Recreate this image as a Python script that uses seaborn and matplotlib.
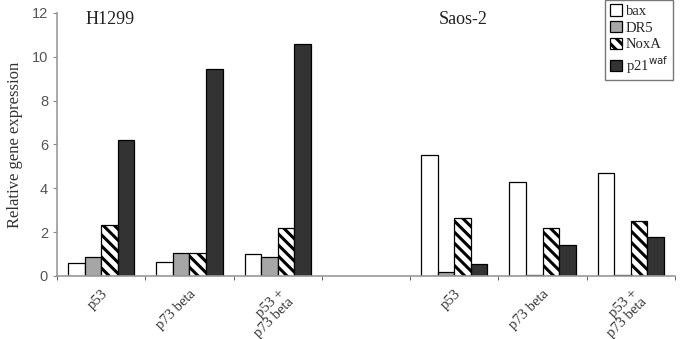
import numpy as np
import pandas as pd
import matplotlib.pyplot as plt
import seaborn as sns

# values
groups = ["H1299 p53", "H1299 p73", "H1299 both", "gap", "Saos p53", "Saos p73", "Saos both"]
tick_labels = ["p53", "p73 beta", "p53 +\np73 beta", "", "p53", "p73 beta", "p53 +\np73 beta"]
genes = ["bax", "DR5", "NoxA", "p21"]
gene_labels = ["bax", "DR5", "NoxA", r"p21$^{\mathrm{waf}}$"]

bax = [0.6, 0.65, 1.0, 5.5, 4.3, 4.7]
dr5 = [0.87, 1.05, 0.87, 0.2, 0.05, 0.05]
noxa = [2.33, 1.05, 2.2, 2.63, 2.2, 2.5]
p21 = [6.2, 9.45, 10.6, 0.55, 1.4, 1.78]

data_groups = [g for g in groups if g != "gap"]
rows = []
for gene, vals in zip(genes, [bax, dr5, noxa, p21]):
    for g, v in zip(data_groups, vals):
        rows.append({"group": g, "gene": gene, "value": v})
df = pd.DataFrame(rows)

sns.set_style("white")
plt.rcParams['font.family'] = ['Liberation Serif', 'DejaVu Serif']
plt.rcParams['hatch.linewidth'] = 2.2

fig = plt.figure(figsize=(6.88, 3.39), dpi=100)
ax = fig.add_axes([0.083, 0.186, 0.898, 0.776])

colors = {"bax": "white", "DR5": "#a6a6a6", "NoxA": "white", "p21": "#333333"}
sns.barplot(data=df, x="group", y="value", hue="gene", order=groups, hue_order=genes,
            palette=colors, edgecolor="black", linewidth=0.9, width=0.75,
            saturation=1, ax=ax, legend=False)

for patch in ax.containers[2]:
    patch.set_hatch("\\\\\\")

ax.set_ylim(0, 12)
ax.set_xlim(-0.5, len(groups) - 0.5)
ax.set_yticks(range(0, 13, 2))
ax.tick_params(axis='y', labelsize=10.5, labelcolor='#555555', length=3, color='#888888', direction='out', left=True)
for lab in ax.get_yticklabels():
    lab.set_family('Liberation Sans')

ax.set_xticks(range(len(groups)))
ax.set_xticklabels(tick_labels, rotation=45, ha='right', rotation_mode='anchor', fontsize=10.5,
                   color='#333333', linespacing=0.95)
ax.tick_params(axis='x', length=0, pad=8)
ax.set_xticks(np.arange(len(groups) + 1) - 0.5, minor=True)
ax.tick_params(axis='x', which='minor', length=3, color='#444444', direction='out', bottom=True)

ax.set_xlabel("")
ax.set_ylabel("Relative gene expression", fontsize=12, color='#333333', labelpad=6)

for side in ["top", "right"]:
    ax.spines[side].set_visible(False)
for side in ["left", "bottom"]:
    ax.spines[side].set_color('#999999')
    ax.spines[side].set_linewidth(1.2)

ax.text(0.1, 11.7, "H1299", fontsize=13, va='center', ha='center', color='#222222')
ax.text(4.1, 11.7, "Saos-2", fontsize=13, va='center', ha='center', color='#222222')

leg = ax.legend(handles=ax.containers, labels=gene_labels, loc='upper right',
                bbox_to_anchor=(0.978, 1.0), bbox_transform=fig.transFigure,
                fontsize=10.5, handlelength=0.8, handleheight=0.8, handletextpad=0.3,
                labelspacing=0.2, borderpad=0.3, borderaxespad=0, fancybox=False,
                frameon=True, edgecolor='#555555')
leg.get_frame().set_linewidth(1.0)

fig.savefig("out.png", dpi=100)
